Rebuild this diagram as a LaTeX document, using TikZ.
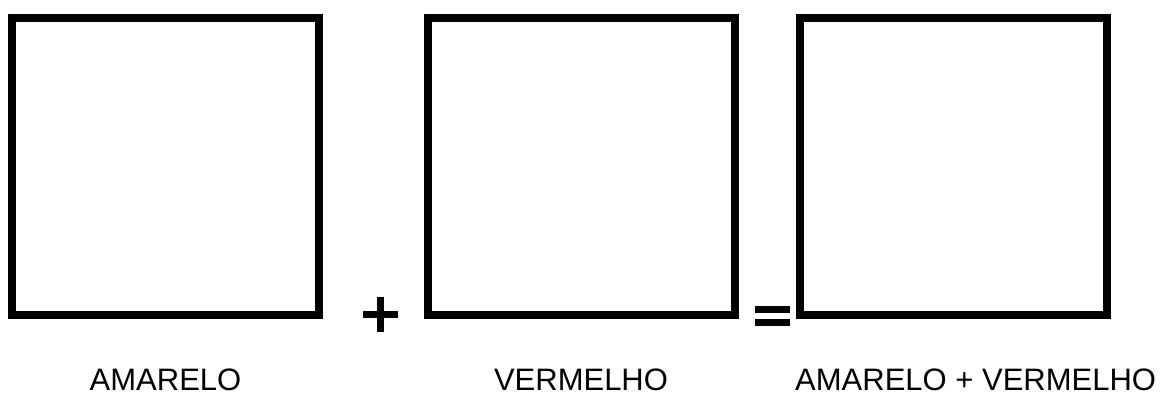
\documentclass[tikz,border=0pt]{standalone}
\usepackage{fontspec}
\setmainfont{Liberation Sans}
\usetikzlibrary{calc}

\begin{document}
\begin{tikzpicture}[x=1pt,y=-1pt,
  caixa/.style={draw=black,line width=8pt,minimum width=307pt,minimum height=297pt,inner sep=0pt},
  sinal/.style={line width=7pt,black},
  rotulo/.style={font=\fontsize{31}{34}\selectfont,inner sep=0pt,anchor=base}]
  \useasboundingbox (0,0) rectangle (1169,394);
  % as tres caixas
  \node[caixa] (amarelo) at (165.5,166) {};
  \node[caixa] (vermelho) at (581,166) {};
  \node[caixa] (mistura) at (953,166) {};
  % sinal de mais
  \coordinate (mais) at (380.5,314);
  \draw[sinal] ($(mais)+(-17.5,0)$) -- ($(mais)+(17.5,0)$);
  \draw[sinal] ($(mais)+(0,-17.5)$) -- ($(mais)+(0,17.5)$);
  % sinal de igual
  \coordinate (igual) at (772.5,316);
  \draw[sinal] ($(igual)+(-17.5,-6.5)$) -- ($(igual)+(17.5,-6.5)$);
  \draw[sinal] ($(igual)+(-17.5,6.5)$) -- ($(igual)+(17.5,6.5)$);
  % nomes das cores
  \node[rotulo] (tamarelo) at (165.5,390) {AMARELO};
  \node[rotulo] (tvermelho) at (581,390) {VERMELHO};
  \node[rotulo,anchor=base west] (tmistura) at (795,390) {AMARELO + VERMELHO};
\end{tikzpicture}
\end{document}
